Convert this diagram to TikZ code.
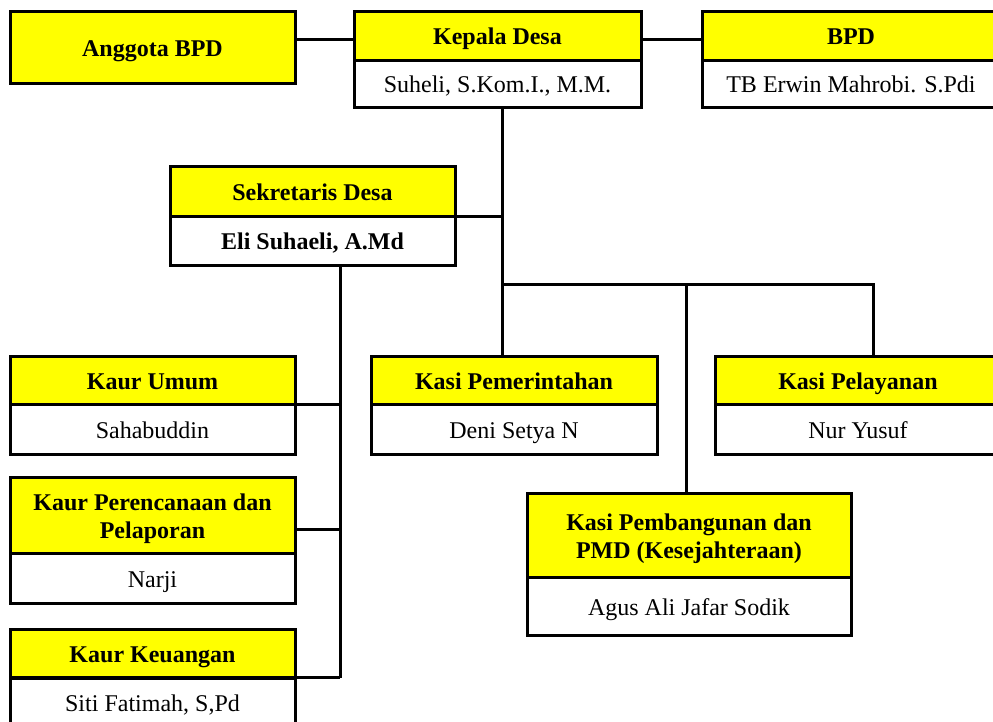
\documentclass[tikz,border=0pt]{standalone}
\usepackage{fontspec}
\setmainfont{Liberation Serif}
\usetikzlibrary{positioning}
\definecolor{kuning}{RGB}{255,255,0}

\begin{document}
\begin{tikzpicture}[x=0.5pt,y=-0.5pt,line width=1.5pt,
    judul/.style={draw,fill=kuning,font={\fontsize{12}{14}\selectfont\bfseries},align=center,inner sep=0pt,outer sep=0pt,text height=9.5pt,text depth=1pt,anchor=north west},
    nama/.style={draw,fill=white,font={\fontsize{12}{14}\selectfont},align=center,inner sep=0pt,outer sep=0pt,text height=9.5pt,text depth=1pt,below=0pt of #1}]
  \clip (0,0) rectangle (993,722);
  % baris atas
  \node[judul,minimum width=142.5pt,minimum height=36pt] (anggota) at (10,12) {Anggota BPD};
  \node[judul,minimum width=143.5pt,minimum height=24.5pt] (kepala) at (354,12) {Kepala Desa};
  \node[nama=kepala,minimum width=143.5pt,minimum height=23.5pt] (kepalanama) {Suheli, S.Kom.I., M.M.};
  \node[judul,minimum width=149pt,minimum height=24.5pt] (bpd) at (702,12) {BPD};
  \node[nama=bpd,minimum width=149pt,minimum height=23.5pt] (bpdnama) {TB Erwin Mahrobi. S.Pdi};
  % sekretaris
  \node[judul,minimum width=142.5pt,minimum height=25pt] (sekretaris) at (170,167) {Sekretaris Desa};
  \node[nama=sekretaris,minimum width=142.5pt,minimum height=24.5pt,font={\fontsize{12}{14}\selectfont\bfseries}] (sekretarisnama) {Eli Suhaeli, A.Md};
  % kaur
  \node[judul,minimum width=142.5pt,minimum height=24pt] (umum) at (10,357) {Kaur Umum};
  \node[nama=umum,minimum width=142.5pt,minimum height=25pt] (umumnama) {Sahabuddin};
  \node[judul,minimum width=142.5pt,minimum height=38pt,text height=23.5pt] (rencana) at (10,478) {Kaur Perencanaan dan\\Pelaporan};
  \node[nama=rencana,minimum width=142.5pt,minimum height=25pt] (rencananama) {Narji};
  \node[judul,minimum width=142.5pt,minimum height=24pt] (keuangan) at (10,630) {Kaur Keuangan};
  \node[nama=keuangan,minimum width=142.5pt,minimum height=25pt] (keuangannama) {Siti Fatimah, S,Pd};
  % kasi
  \node[judul,minimum width=143pt,minimum height=24pt] (kasipem) at (371,357) {Kasi Pemerintahan};
  \node[nama=kasipem,minimum width=143pt,minimum height=25pt] (kasipemnama) {Deni Setya N};
  \node[judul,minimum width=143pt,minimum height=24pt] (kasilayan) at (715,357) {Kasi Pelayanan};
  \node[nama=kasilayan,minimum width=143pt,minimum height=25pt] (kasilayannama) {Nur Yusuf};
  \node[judul,minimum width=162pt,minimum height=42pt,text height=23.5pt] (kasibangun) at (527,494) {Kasi Pembangunan dan\\PMD (Kesejahteraan)};
  \node[nama=kasibangun,minimum width=162pt,minimum height=29pt] (kasibangunnama) {Agus Ali Jafar Sodik};
  % garis
  \coordinate (cabang) at (502,285);
  \coordinate (cabangb) at (686,285);
  \coordinate (cabangc) at (873,285);
  \coordinate (sekbus) at (340,0);
  \draw ([yshift=-1.75pt]kepala.west) -- ([yshift=-1.75pt]kepala.west -| anggota.east);
  \draw ([yshift=-1.75pt]kepala.east) -- ([yshift=-1.75pt]kepala.east -| bpd.west);
  \draw (kepalanama.south -| cabang) -- (cabang |- kasipem.north);
  \draw (sekretaris.south east) -- (sekretaris.south east -| cabang);
  \draw (cabang) -- (cabangc) -- (cabangc |- kasilayan.north);
  \draw (cabangb) -- (cabangb |- kasibangun.north);
  \draw (sekretarisnama.south -| sekbus) -- (sekbus |- keuangan.south east);
  \draw (umum.south east) -- (umum.south east -| sekbus);
  \draw ([yshift=12pt]rencana.south east) -- ([yshift=12pt]rencana.south east -| sekbus);
  \draw (keuangan.south east) -- (keuangan.south east -| sekbus);
\end{tikzpicture}
\end{document}
